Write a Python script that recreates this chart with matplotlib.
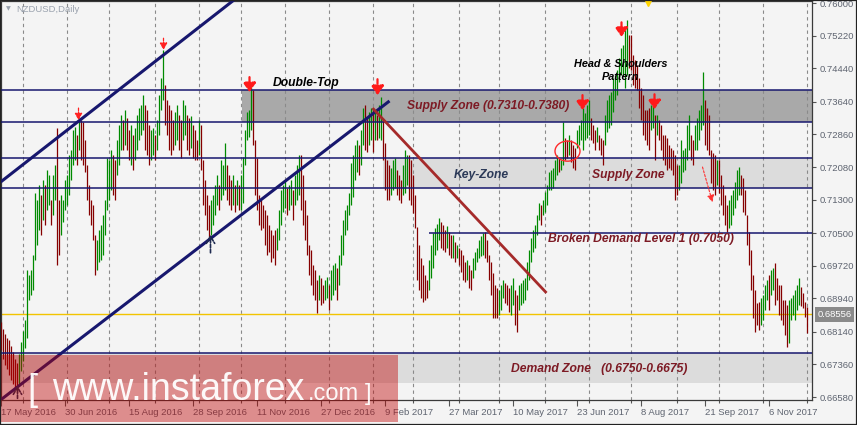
import numpy as np
import pandas as pd
import matplotlib
matplotlib.use("Agg")
import matplotlib.pyplot as plt
from matplotlib.patches import Rectangle, Ellipse
from matplotlib.transforms import blended_transform_factory

# ---------------- data (NZDUSD daily bars) ----------------
start_date = "2016-05-17"
high = [
    .6837, .6820, .6810, .6800, .6795, .6780, .6765, .6750, .6740, .6760,
    .6790, .6815, .6842, .6962, .6950, .6962, .6998, .7146, .7129, .7165,
    .7141, .7177, .7165, .7201, .7189, .7129, .7189, .7213, .7301, .7129,
    .7141, .7129, .7177, .7189, .7237, .7248, .7296, .7303, .7284, .7325,
    .7320, .7315, .7272, .7213, .7165, .7129, .7117, .7045, .7034, .7057,
    .7069, .7093, .7129, .7229, .7225, .7248, .7237, .7225, .7272, .7308,
    .7332, .7320, .7344, .7325, .7296, .7308, .7284, .7301, .7332, .7349,
    .7356, .7380, .7356, .7344, .7308, .7296, .7301, .7284, .7320, .7380,
    .7421, .7488, .7404, .7368, .7356, .7344, .7320, .7339, .7356, .7332,
    .7320, .7368, .7356, .7332, .7325, .7330, .7308, .7296, .7272, .7320,
    .7308, .7225, .7177, .7141, .7117, .7129, .7141, .7165, .7189, .7165,
    .7225, .7213, .7265, .7213, .7189, .7177, .7189, .7165, .7177, .7165,
    .7189, .7232, .7296, .7339, .7344, .7399, .7392, .7272, .7229, .7141,
    .7129, .7117, .7105, .7093, .7069, .7057, .7045, .7057, .7062, .7105,
    .7153, .7165, .7177, .7158, .7165, .7177, .7153, .7189, .7213, .7237,
    .7237, .7189, .7129, .7093, .7022, .7010, .6974, .6962, .6938, .6950,
    .6943, .6926, .6938, .6945, .6926, .6962, .6974, .6978, .6966, .6998,
    .7045, .7081, .7105, .7117, .7146, .7217, .7237, .7260, .7272, .7260,
    .7296, .7349, .7356, .7325, .7339, .7349, .7349, .7344, .7332, .7356,
    .7375, .7320, .7265, .7225, .7213, .7205, .7225, .7229, .7201, .7189,
    .7177, .7213, .7248, .7237, .7237, .7225, .7189, .7141, .7064, .7022,
    .6990, .6974, .6950, .6938, .6986, .7022, .7050, .7062, .7072, .7086,
    .7076, .7069, .7057, .7067, .7053, .7045, .7045, .7029, .7022, .7014,
    .7010, .6998, .6981, .6986, .6974, .6962, .6990, .7005, .7014, .7034,
    .7043, .7050, .7053, .7034, .6998, .6981, .6955, .6926, .6919, .6914,
    .6926, .6938, .6931, .6926, .6919, .6926, .6943, .6914, .6902, .6926,
    .6931, .6938, .6943, .6981, .7010, .7038, .7057, .7069, .7093, .7122,
    .7117, .7129, .7148, .7165, .7196, .7201, .7205, .7225, .7237, .7229,
    .7225, .7315, .7277, .7272, .7284, .7272, .7260, .7253, .7296, .7308,
    .7320, .7349, .7337, .7356, .7368, .7325, .7308, .7296, .7303, .7284,
    .7277, .7272, .7332, .7368, .7380, .7387, .7421, .7428, .7440, .7468,
    .7492, .7499, .7535, .7559, .7523, .7523, .7476, .7464, .7452, .7421,
    .7397, .7380, .7344, .7344, .7349, .7356, .7361, .7332, .7332, .7320,
    .7308, .7284, .7284, .7277, .7260, .7253, .7248, .7237, .7213, .7213,
    .7272, .7248, .7253, .7308, .7332, .7284, .7272, .7308, .7325, .7344,
    .7356, .7435, .7368, .7349, .7332, .7248, .7241, .7237, .7225, .7225,
    .7189, .7165, .7141, .7117, .7129, .7141, .7153, .7172, .7201, .7208,
    .7189, .7182, .7153, .7093, .7053, .7010, .6950, .6914, .6883, .6885,
    .6895, .6902, .6926, .6938, .6950, .6962, .6966, .6978, .6943, .6926,
    .6926, .6890, .6890, .6878, .6890, .6895, .6902, .6914, .6926, .6943,
    .6921, .6907, .6885, .6873,
]
low = [
    .6770, .6750, .6735, .6725, .6710, .6700, .6690, .6680, .6668, .6685,
    .6720, .6745, .6775, .6800, .6890, .6902, .6914, .6986, .7021, .7057,
    .7045, .7081, .7069, .7105, .7117, .7069, .7093, .7129, .6974, .6998,
    .7045, .7076, .7105, .7117, .7141, .7177, .7213, .7225, .7213, .7248,
    .7225, .7213, .7196, .7129, .7093, .7069, .7034, .6950, .6962, .6981,
    .6986, .6998, .7045, .7105, .7129, .7153, .7141, .7129, .7189, .7213,
    .7248, .7248, .7260, .7248, .7225, .7213, .7201, .7225, .7248, .7272,
    .7284, .7296, .7248, .7237, .7213, .7225, .7237, .7225, .7248, .7284,
    .7344, .7368, .7308, .7284, .7248, .7237, .7248, .7260, .7272, .7248,
    .7229, .7272, .7284, .7248, .7237, .7253, .7229, .7225, .7225, .7237,
    .7201, .7117, .7093, .7057, .7034, .7045, .7069, .7093, .7117, .7105,
    .7129, .7141, .7153, .7129, .7117, .7105, .7117, .7100, .7117, .7105,
    .7105, .7122, .7213, .7272, .7280, .7296, .7260, .7141, .7105, .7069,
    .7057, .7062, .7021, .6998, .7005, .6981, .6990, .6974, .7010, .7034,
    .7069, .7100, .7110, .7093, .7105, .7117, .7081, .7117, .7129, .7141,
    .7105, .7069, .7034, .6998, .6950, .6926, .6902, .6890, .6859, .6890,
    .6878, .6883, .6890, .6895, .6866, .6890, .6902, .6914, .6890, .6926,
    .6974, .6998, .7045, .7057, .7093, .7117, .7136, .7177, .7196, .7189,
    .7213, .7260, .7248, .7244, .7260, .7272, .7244, .7272, .7272, .7277,
    .7272, .7225, .7153, .7129, .7129, .7141, .7153, .7158, .7141, .7129,
    .7122, .7141, .7146, .7165, .7129, .7117, .7098, .7062, .6938, .6914,
    .6895, .6885, .6890, .6895, .6914, .6943, .6966, .6998, .7010, .7034,
    .7014, .7010, .7005, .7014, .6998, .6990, .6990, .6981, .6990, .6974,
    .6957, .6938, .6933, .6938, .6919, .6914, .6943, .6962, .6981, .6990,
    .6995, .6998, .6990, .6981, .6938, .6902, .6847, .6847, .6847, .6854,
    .6866, .6895, .6883, .6878, .6861, .6854, .6878, .6830, .6814, .6866,
    .6878, .6883, .6890, .6914, .6938, .6981, .7005, .7014, .7045, .7081,
    .7069, .7093, .7100, .7117, .7153, .7153, .7158, .7177, .7189, .7196,
    .7201, .7213, .7225, .7229, .7237, .7220, .7205, .7201, .7253, .7260,
    .7272, .7248, .7272, .7277, .7284, .7272, .7265, .7248, .7268, .7248,
    .7237, .7213, .7260, .7292, .7301, .7308, .7339, .7368, .7380, .7411,
    .7428, .7428, .7397, .7428, .7444, .7440, .7404, .7397, .7392, .7349,
    .7320, .7284, .7272, .7260, .7248, .7296, .7301, .7225, .7284, .7272,
    .7248, .7225, .7213, .7201, .7205, .7201, .7189, .7129, .7141, .7153,
    .7170, .7196, .7201, .7225, .7248, .7225, .7213, .7248, .7248, .7272,
    .7296, .7308, .7260, .7248, .7237, .7170, .7153, .7141, .7165, .7146,
    .7117, .7093, .7069, .7053, .7062, .7069, .7093, .7110, .7129, .7141,
    .7141, .7100, .7093, .7022, .6974, .6914, .6847, .6814, .6830, .6818,
    .6830, .6842, .6866, .6890, .6866, .6902, .6914, .6878, .6890, .6854,
    .6842, .6830, .6806, .6778, .6787, .6842, .6854, .6842, .6866, .6878,
    .6876, .6871, .6849, .6811,
]
current_price = 0.68556
price_ticks = [0.76000, 0.75220, 0.74440, 0.73640, 0.72860, 0.72080, 0.71300,
               0.70500, 0.69720, 0.68940, 0.68140, 0.67360, 0.66580]
supply_zone = (0.7315, 0.7392)
key_zone = (0.7158, 0.7229)
demand_zone = (0.6692, 0.6763)
broken_level = 0.7050
# trend lines as (bar, price) anchors
upper_channel = [(-0.5, 0.7172), (118.0, 0.7614)]
lower_channel = [(-0.5, 0.6651), (194.0, 0.7366)]
down_trend = [(185.5, 0.7349), (272.5, 0.6907)]
# arrows: (bar, tip price, tail price)
red_arrows_small = [(38.5, 0.7320, 0.7349), (81.0, 0.7488, 0.7516)]
red_arrows_big = [(124.0, 0.7387, 0.7423), (188.0, 0.7380, 0.7418),
                  (290.5, 0.7344, 0.7380), (310.0, 0.7519, 0.7554),
                  (326.5, 0.7346, 0.7382)]
up_arrows = [(104.5, 0.7046, 0.7003), (8.0, 0.6685, 0.6655)]

# ---------------- figure ----------------
FONT = ["Liberation Sans", "DejaVu Sans"]
plt.rcParams["font.family"] = FONT
W, H = 857, 425
BG = "#f4f4f4"
fig = plt.figure(figsize=(W / 100, H / 100), dpi=100, facecolor=BG)
ax = fig.add_axes([0.5 / W, 25 / H, 812 / W, 399 / H], facecolor=BG)

n = len(high)
hi = np.array(high)
lo = np.array(low)
xs = np.arange(n)
ax.set_xlim(-0.5, 405.5)
ax.set_ylim(0.6651, 0.7605)

dates = pd.bdate_range(start_date, periods=n)
month_starts = [i for i in range(1, n) if dates[i].month != dates[i - 1].month]
for i in month_starts:
    ax.axvline(i, color="#8a8a8a", lw=0.8, ls=(0, (3, 3)), zorder=1.5)

xr = ax.get_xlim()[1]
# zones
ax.fill_between([-0.5, xr], demand_zone[0], demand_zone[1], color="#dcdcdc", lw=0, zorder=1)
ax.fill_between([120.5, xr], supply_zone[0], supply_zone[1], color="#a9a9a9", lw=0, zorder=1)
ax.fill_between([191.0, xr], key_zone[0], key_zone[1], color="#dcdcdc", lw=0, zorder=1)

# current price line
ax.axhline(current_price, color="#f2c400", lw=1.0, zorder=1.6)

# bars
mids = (hi + lo) / 2
up = np.r_[False, np.diff(mids) >= 0]
cols = np.where(up, "#008a00", "#850000")
ax.vlines(xs, lo, hi, colors=cols, lw=0.9, zorder=3)

# horizontal level lines
NAVY = "#17176e"
for lvl in (supply_zone[1], supply_zone[0], key_zone[1], key_zone[0], demand_zone[1]):
    ax.axhline(lvl, color=NAVY, lw=1.1, zorder=4)
ax.hlines(broken_level, 214, xr, color=NAVY, lw=1.1, zorder=4)

# trend lines
for line in (upper_channel, lower_channel):
    (x0, y0), (x1, y1) = line
    ax.plot([x0, x1], [y0, y1], color=NAVY, lw=2.2, zorder=5, solid_capstyle="butt")
(x0, y0), (x1, y1) = down_trend
ax.plot([x0, x1], [y0, y1], color="#a52a2a", lw=2.0, zorder=5, solid_capstyle="butt")

# arrows
for bx, tip, tail in red_arrows_small:
    ax.annotate("", xy=(bx, tip), xytext=(bx, tail),
                arrowprops=dict(arrowstyle="-|>,head_width=0.22,head_length=0.4",
                                color="#ff2020", lw=0.9, ls=(0, (2, 1)), shrinkA=0, shrinkB=0),
                zorder=6)
for bx, tip, tail in red_arrows_big:
    ax.annotate("", xy=(bx, tip), xytext=(bx, tail),
                arrowprops=dict(arrowstyle="-|>,head_width=0.38,head_length=0.55",
                                color="#ff1a1a", lw=1.6, ls=(0, (2, 1)), shrinkA=0, shrinkB=0),
                zorder=6)
for bx, tip, tail in up_arrows:
    ax.annotate("", xy=(bx, tip), xytext=(bx, tail),
                arrowprops=dict(arrowstyle="->,head_width=0.3,head_length=0.5",
                                color="#1e2a50", lw=1.2, ls=(0, (2, 1)), shrinkA=0, shrinkB=0),
                zorder=6)
ax.annotate("", xy=(355.5, 0.7124), xytext=(350.5, 0.7208),
            arrowprops=dict(arrowstyle="-|>,head_width=0.2,head_length=0.4",
                            color="#ff3030", lw=0.8, ls=(0, (2, 1.5)), shrinkA=0, shrinkB=0),
            zorder=6)
ax.add_patch(Ellipse((283, 0.7246), 12.5, 0.0048, fill=False, ec="#ff2a2a", lw=1.0, zorder=6))
ax.plot([323.5], [0.7603], marker="v", ms=6, color="#ffd400", clip_on=True, zorder=6)

# texts
MAROON = "#7d1a24"
tkw = dict(fontsize=8.7, style="italic", weight="bold", zorder=7, va="center", family=FONT)
ax.text(135.5, 0.7409, "Double-Top", color="black", ha="left", **tkw)
ax.text(203.0, 0.7354, "Supply Zone (0.7310-0.7380)", color=MAROON, ha="left", **tkw)
ax.text(226.0, 0.7189, "Key-Zone", color="#2c3a58", ha="left", **tkw)
ax.text(295.5, 0.7189, "Supply Zone", color=MAROON, ha="left", **tkw)
ax.text(273.5, 0.7036, "Broken Demand Level 1 (0.7050)", color=MAROON, ha="left", **tkw)
ax.text(255.0, 0.6725, "Demand Zone   (0.6750-0.6675)", color=MAROON, ha="left", **tkw)
hkw = dict(tkw)
hkw["fontsize"] = 7.8
ax.text(309.5, 0.7454, "Head & Shoulders", color="black", ha="center", **hkw)
ax.text(309.5, 0.7423, "Pattern", color="black", ha="center", **hkw)

ax.text(16 / 812, 1 - 8 / 399, "NZDUSD,Daily", transform=ax.transAxes, fontsize=6.8,
        color="#9aa2ae", ha="left", va="center", zorder=7)
ax.text(8 / 812, 1 - 8 / 399, "\u25bc", transform=ax.transAxes, fontsize=4.5,
        color="#9aa2ae", ha="center", va="center", family=["DejaVu Sans"], zorder=7)

# axes / ticks
for s in ax.spines.values():
    s.set_color("#3a3a3a")
    s.set_linewidth(0.9)
ax.yaxis.tick_right()
ax.set_yticks(price_ticks)
ax.set_yticklabels([f"{p:.5f}" for p in price_ticks])
ax.tick_params(axis="y", length=3, width=0.8, color="#555555", labelsize=6.8,
               labelcolor="#5e6470", pad=2)
major = list(range(0, n, 32))
ax.set_xticks(major)
ax.set_xticklabels([f"{dates[i].day} {dates[i]:%b} {dates[i].year}" for i in major])
for lbl in ax.get_xticklabels():
    lbl.set_ha("left")
ax.set_xticks(month_starts, minor=True)
ax.tick_params(axis="x", which="major", length=4, width=0.8, color="#555555",
               labelsize=6.8, labelcolor="#5e6470", pad=2)
ax.tick_params(axis="x", which="minor", length=2, width=0.8, color="#555555")

# current price box
trans = blended_transform_factory(ax.transAxes, ax.transData)
ax.text(1 + 5 / 812, current_price, f"{current_price:.5f}", transform=trans,
        ha="left", va="center", fontsize=6.8, color="white", clip_on=False, zorder=8,
        bbox=dict(boxstyle="square,pad=0.28", fc="#8a8a8a", ec="none"))

# watermark overlay
fig.patches.append(Rectangle((0, 3 / H), 398 / W, 67 / H, transform=fig.transFigure,
                             fc="#bf0000", ec="none", alpha=0.42, zorder=20))
fig.text(27 / W, 25 / H, "[", fontsize=26, color="white", ha="left", va="baseline", zorder=21,
         alpha=0.95)
fig.text(52 / W, 25 / H, "www.instaforex", fontsize=27, color="white", ha="left",
         va="baseline", zorder=21, alpha=0.95)
fig.text(308 / W, 25 / H, ".com", fontsize=17, color="white", ha="left", va="baseline",
         zorder=21, alpha=0.95)
fig.text(365 / W, 25 / H, "]", fontsize=17, color="white", ha="left", va="baseline",
         zorder=21, alpha=0.95)

fig.patches.append(Rectangle((0, 0), 1, 1, transform=fig.transFigure, fill=False,
                             ec="#222222", lw=1.6, zorder=30))

fig.savefig("out.png", dpi=100, facecolor=BG)
